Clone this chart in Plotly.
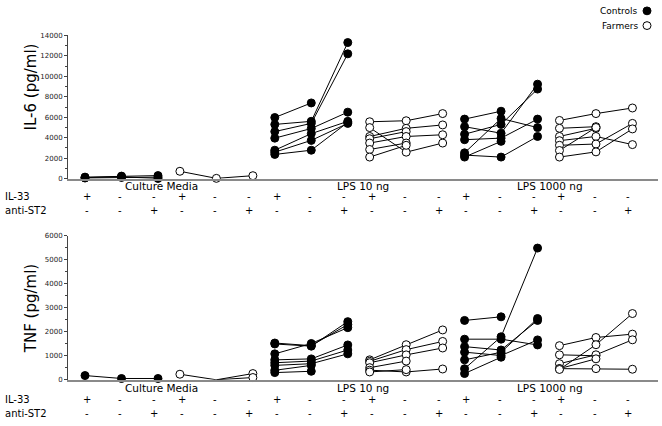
import plotly.graph_objects as go

W, H = 662, 426

GROUPS = ["Culture Media", "LPS 10 ng", "LPS 1000 ng"]
IL33_ROW = ["+", "-", "-"]
ANTI_ST2_ROW = ["-", "-", "+"]
IL6_TICKS = [0, 2000, 4000, 6000, 8000, 10000, 12000, 14000]
TNF_TICKS = [0, 1000, 2000, 3000, 4000, 5000, 6000]

# each inner list = one donor, values for [IL-33, medium, anti-ST2]
IL6_CM_CONTROLS = [[150, 250, 300], [60, 120, 150], [100, 180, 20]]
IL6_CM_FARMERS = [[720, 30, 290]]
IL6_LPS10_CONTROLS = [[5975, 7400, None], [5300, 5600, 13300], [4600, 5400, 12200],
                      [3960, 4900, 6500], [2780, 4400, 5600], [2590, 3740, 5400],
                      [2370, 2780, 5500]]
IL6_LPS10_FARMERS = [[5560, 5660, 6360], [4990, 2590, 3480], [4120, 4920, 5250],
                     [3900, 4600, None], [3480, 4120, 4290], [2850, 3480, None],
                     [2110, 3260, None]]
IL6_LPS1000_CONTROLS = [[5820, 6590, None], [5080, 4440, 9235], [4345, 5300, 8755],
                        [3807, 3960, 5820], [2522, 5880, 4990], [2302, 2110, 4124],
                        [2110, 3644, None]]
IL6_LPS1000_FARMERS = [[5690, 6360, 6905], [4920, 5080, None], [4124, 4920, None],
                       [3711, 4124, 3328], [3261, 3385, 5400], [2752, 5000, None],
                       [2110, 2618, 4862]]

TNF_CM_CONTROLS = [[177, 55, 55]]
TNF_CM_FARMERS = [[232, 0, 260], [None, 0, 95]]
TNF_LPS10_CONTROLS = [[1530, 1420, 2300], [1490, 1400, 2420], [1080, 1510, 2170],
                      [830, 870, 1450], [710, 780, 1240], [600, 670, 1080],
                      [396, 600, None], [300, 355, None]]
TNF_LPS10_FARMERS = [[830, 1460, 2074], [770, 1255, 1596], [709, 1037, 1323],
                     [505, 778, None], [400, 327, 450], [327, 423, None]]
TNF_LPS1000_CONTROLS = [[2470, 2620, None], [1690, 1690, 1450], [1380, 1240, 2470],
                        [1150, 1010, 1660], [830, 1146, 2550], [460, 1790, 5480],
                        [260, 940, None]]
TNF_LPS1000_FARMERS = [[1420, 1760, 1900], [1040, 1000, None], [670, 1040, 1664],
                       [465, 873, None], [465, 465, 440], [430, 1460, 2756]]

IL6_PANEL = [[IL6_CM_CONTROLS, IL6_CM_FARMERS],
             [IL6_LPS10_CONTROLS, IL6_LPS10_FARMERS],
             [IL6_LPS1000_CONTROLS, IL6_LPS1000_FARMERS]]
TNF_PANEL = [[TNF_CM_CONTROLS, TNF_CM_FARMERS],
             [TNF_LPS10_CONTROLS, TNF_LPS10_FARMERS],
             [TNF_LPS1000_CONTROLS, TNF_LPS1000_FARMERS]]

BLOCK = 2.6  # spacing between blocks, in treatment units


def px(x):
    return x / W


def py(y):
    return 1 - y / H


fig = go.Figure()

for panel, (xa, ya) in ((IL6_PANEL, ("x", "y")), (TNF_PANEL, ("x2", "y2"))):
    for c, cohorts in enumerate(panel):
        for k, donors in enumerate(cohorts):
            g = 2 * c + k
            xs = [g * BLOCK + t for t in range(3)]
            for d in donors:
                # a value of exactly 0 sits on the axis: line only, no marker
                sizes = [0 if v == 0 else 8 for v in d]
                fig.add_trace(go.Scatter(
                    x=xs, y=d, xaxis=xa, yaxis=ya, mode="lines+markers",
                    line=dict(color="black", width=1),
                    marker=dict(size=sizes, symbol="circle", opacity=1,
                                color="black" if k == 0 else "white",
                                line=dict(color="black", width=1)),
                    cliponaxis=False, connectgaps=False, showlegend=False,
                    hoverinfo="skip"))

XR = [-0.466, 15.70]
xdom = [px(68), px(658)]
axis_x = dict(range=XR, domain=xdom, showgrid=False, zeroline=False,
              showticklabels=False, ticks="", showline=True,
              linecolor="#8a8a8a", linewidth=1.5)
axis_y = dict(showgrid=False, zeroline=False, showline=True, linecolor="#444",
              linewidth=1, ticks="outside", ticklen=3, tickcolor="#444",
              tickformat="d",
              tickfont=dict(family="DejaVu Sans", size=7, color="#222"))

fig.update_layout(
    width=W, height=H, margin=dict(l=0, r=0, t=0, b=0),
    paper_bgcolor="white", plot_bgcolor="white",
    xaxis=dict(axis_x, anchor="y"),
    xaxis2=dict(axis_x, anchor="y2"),
    yaxis=dict(axis_y, anchor="x", domain=[py(178), py(32)], range=[0, 14000],
               tickvals=IL6_TICKS, minor=dict(dtick=1000, ticks="outside",
                                              ticklen=2, tickcolor="#444")),
    yaxis2=dict(axis_y, anchor="x2", domain=[py(383), py(236)], range=[0, 6000],
                tickvals=TNF_TICKS, minor=dict(dtick=500, ticks="outside",
                                               ticklen=2, tickcolor="#444")),
)

ann = []
txt_font = dict(family="DejaVu Sans", size=10, color="black")
grp_font = dict(family="DejaVu Sans", size=10.5, color="black")


def note(text, x, y, xref="paper", xanchor="center", font=txt_font, **kw):
    ann.append(dict(text=text, x=x, y=y, xref=xref, yref="paper",
                    xanchor=xanchor, yanchor="middle", showarrow=False,
                    font=font, **kw))


# axis titles
title_font = dict(family="DejaVu Sans", size=15, color="black")
note("IL-6 (pg/ml)", px(31), py(85), font=title_font, textangle=-90)
note("TNF (pg/ml)", px(31), py(311), font=title_font, textangle=-90)

group_px = [161, 363, 550]
for xa, rows in (("x", (185, 196, 210)), ("x2", (391, 403, 417))):
    ygrp, yil, yst = rows
    for i, gname in enumerate(GROUPS):
        note(gname, px(group_px[i]), py(ygrp), font=grp_font)
    note("IL-33", px(3), py(yil), xanchor="left")
    note("anti-ST2", px(3), py(yst), xanchor="left")
    for g in range(6):
        for t in range(3):
            xv = g * BLOCK + 0.05 + t * 0.92
            note(IL33_ROW[t], xv, py(yil), xref=xa)
            note(ANTI_ST2_ROW[t], xv, py(yst), xref=xa)

# legend
leg_font = dict(family="DejaVu Sans", size=9, color="black")
note("Controls", px(640), py(7), xanchor="right", font=leg_font)
note("Farmers", px(640), py(22), xanchor="right", font=leg_font)
fig.update_layout(annotations=ann)
fig.add_shape(type="circle", xref="paper", yref="paper",
              x0=px(643), x1=px(651), y0=py(11), y1=py(3),
              fillcolor="black", line=dict(color="black", width=1))
fig.add_shape(type="circle", xref="paper", yref="paper",
              x0=px(643), x1=px(651), y0=py(26), y1=py(18),
              fillcolor="white", line=dict(color="black", width=1))

fig.write_html("out.html", config={"displayModeBar": False},
               post_script="document.body.style.margin='0';"
                           "document.body.style.overflow='hidden';")
